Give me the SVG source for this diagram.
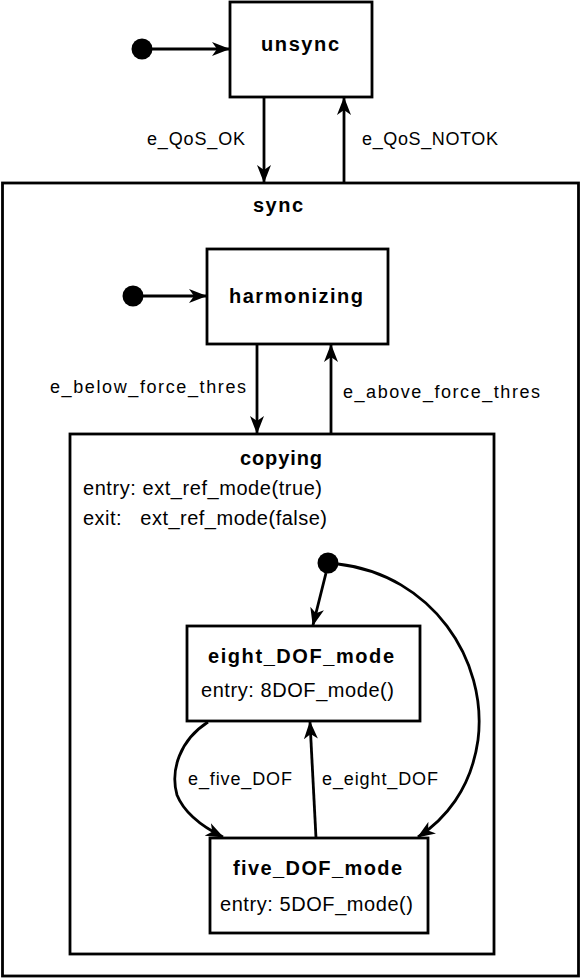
<svg xmlns="http://www.w3.org/2000/svg" width="581" height="979" viewBox="0 0 581 979">
<style>
.box{fill:#fff;stroke:#000;stroke-width:2.8}
.frame{fill:none;stroke:#000;stroke-width:2.8}
.init{fill:#000}
.edge{fill:none;stroke:#000;stroke-width:2.8;marker-end:url(#arr)}
.name{font-family:"Liberation Sans",Arial,sans-serif;font-weight:bold;font-size:20px;fill:#000}
.lbl{font-family:"Liberation Sans",Arial,sans-serif;font-size:18px;fill:#000}
.act{font-family:"Liberation Sans",Arial,sans-serif;font-size:20px;fill:#000}
</style>
<defs>
<marker id="arr" markerUnits="userSpaceOnUse" markerWidth="18" markerHeight="14" refX="17" refY="7" orient="auto" viewBox="0 0 18 14">
<path d="M0,0 L18,7 L0,14 L5,7 z" fill="#000"/>
</marker>
</defs>
<rect width="581" height="979" fill="#fff"/>
<g id="sync">
<rect class="frame" x="2.5" y="183" width="576" height="793"/>
<text class="name" x="253" y="212" textLength="50" lengthAdjust="spacing">sync</text>
</g>
<g id="unsync">
<rect class="box" x="230" y="2" width="142" height="95"/>
<text class="name" x="261" y="51" textLength="78" lengthAdjust="spacing">unsync</text>
</g>
<g id="harmonizing">
<rect class="box" x="207" y="249" width="181" height="95"/>
<text class="name" x="229" y="303" textLength="134" lengthAdjust="spacing">harmonizing</text>
</g>
<g id="copying">
<rect class="frame" x="70" y="434" width="424" height="520"/>
<text class="name" x="240" y="465" textLength="82" lengthAdjust="spacing">copying</text>
<text class="act" x="83" y="495" textLength="239" lengthAdjust="spacing">entry: ext_ref_mode(true)</text>
<text class="act" x="83" y="525" textLength="244" lengthAdjust="spacing" xml:space="preserve">exit:   ext_ref_mode(false)</text>
</g>
<g id="eight_DOF_mode">
<rect class="box" x="187" y="626" width="233" height="95"/>
<text class="name" x="208" y="663" textLength="186" lengthAdjust="spacing">eight_DOF_mode</text>
<text class="act" x="201" y="697" textLength="193" lengthAdjust="spacing">entry: 8DOF_mode()</text>
</g>
<g id="five_DOF_mode">
<rect class="box" x="210" y="838" width="218" height="95"/>
<text class="name" x="233" y="875" textLength="169" lengthAdjust="spacing">five_DOF_mode</text>
<text class="act" x="220" y="911" textLength="193" lengthAdjust="spacing">entry: 5DOF_mode()</text>
</g>
<g id="init1"><circle class="init" cx="142" cy="49" r="10.5"/></g>
<g id="init2"><circle class="init" cx="133" cy="296" r="10.5"/></g>
<g id="init3"><circle class="init" cx="328" cy="563" r="10.5"/></g>
<g id="connectors">
<path class="edge" d="M150,49 L229,49"/>
<path class="edge" d="M264,97 L264,182"/>
<path class="edge" d="M344,183 L344,98"/>
<path class="edge" d="M141,296 L206,296"/>
<path class="edge" d="M257,344 L257,433"/>
<path class="edge" d="M331,434 L331,345"/>
<path class="edge" d="M326,573 L313,625"/>
<path class="edge" d="M338,564 C432,575 488,660 478,740 C471,790 444,820 418,837"/>
<path class="edge" d="M208,722 C180,740 170,770 177,795 C185,815 205,828 223,837"/>
<path class="edge" d="M316,838 L310,722"/>
<text class="lbl" x="147" y="145" textLength="98" lengthAdjust="spacing">e_QoS_OK</text>
<text class="lbl" x="362" y="145" textLength="136" lengthAdjust="spacing">e_QoS_NOTOK</text>
<text class="lbl" x="50" y="393" textLength="196" lengthAdjust="spacing">e_below_force_thres</text>
<text class="lbl" x="343" y="398" textLength="197" lengthAdjust="spacing">e_above_force_thres</text>
<text class="lbl" x="188" y="785" textLength="104" lengthAdjust="spacing">e_five_DOF</text>
<text class="lbl" x="322" y="785" textLength="116" lengthAdjust="spacing">e_eight_DOF</text>
</g>
</svg>
